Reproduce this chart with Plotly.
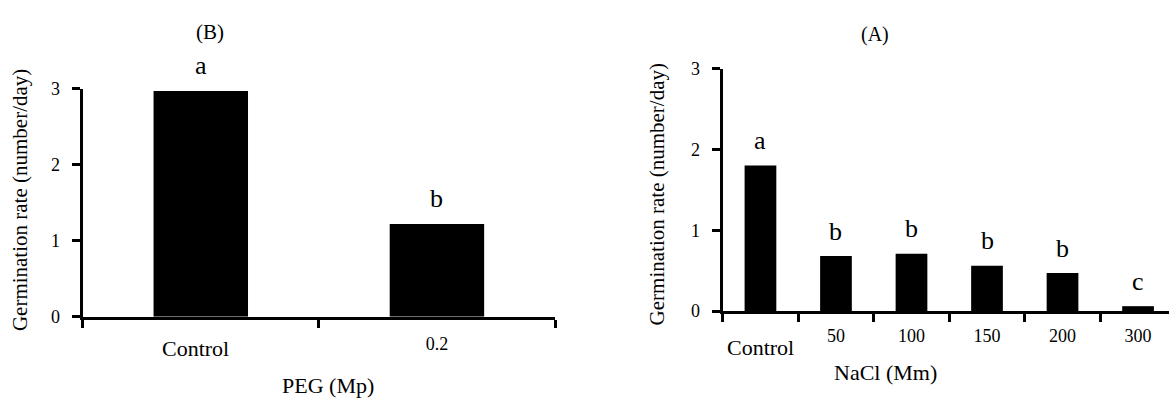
import plotly.graph_objects as go

# ---- data ----
peg_categories = ["Control", "0.2"]
peg_rate = [2.97, 1.22]
peg_letters = ["a", "b"]

nacl_categories = ["Control", "50", "100", "150", "200", "300"]
nacl_rate = [1.80, 0.68, 0.71, 0.56, 0.47, 0.06]
nacl_letters = ["a", "b", "b", "b", "b", "c"]

y_ticks = [0, 1, 2, 3]

W, H = 1169, 404
FONT = "Liberation Serif, Times New Roman, serif"


def px(x):
    return x / W


def py(y):
    return 1 - y / H


fig = go.Figure()
fig.add_trace(go.Bar(x=peg_categories, y=peg_rate, width=0.40,
                     marker=dict(color="black", line=dict(width=0)),
                     xaxis="x", yaxis="y", showlegend=False))
fig.add_trace(go.Bar(x=nacl_categories, y=nacl_rate, width=0.42,
                     marker=dict(color="black", line=dict(width=0)),
                     xaxis="x2", yaxis="y2", showlegend=False))

axis_common = dict(showline=True, linecolor="black", linewidth=3,
                   ticks="outside", ticklen=8, tickwidth=3, tickcolor="black",
                   showgrid=False, zeroline=False,
                   tickfont=dict(family=FONT, size=18, color="black"))

fig.update_layout(
    width=W, height=H,
    margin=dict(l=0, r=0, t=0, b=0),
    paper_bgcolor="white", plot_bgcolor="white",
    font=dict(family=FONT, color="black"),
    xaxis=dict(domain=[px(82.7), px(555)], anchor="y", type="category",
               range=[-0.5, 1.5], tickson="boundaries",
               tickmode="array", tickvals=peg_categories,
               ticktext=["" if c == "Control" else c for c in peg_categories],
               ticklabelstandoff=9, **axis_common),
    yaxis=dict(domain=[py(322.7), py(82.7)], anchor="x", range=[0, 3],
               tickmode="array", tickvals=y_ticks, ticklabelstandoff=8,
               **axis_common),
    xaxis2=dict(domain=[px(722.7), 1.0], anchor="y2", type="category",
                range=[-0.5, 5.41], tickson="boundaries",
                tickmode="array", tickvals=nacl_categories,
                ticktext=["" if c == "Control" else c for c in nacl_categories],
                ticklabelstandoff=6, **axis_common),
    yaxis2=dict(domain=[py(316.7), py(61.7)], anchor="x2", range=[0, 3],
                tickmode="array", tickvals=y_ticks, ticklabelstandoff=8,
                **axis_common),
)

ann = []
# significance letters (x given as category index)
for i, (v, t) in enumerate(zip(peg_rate, peg_letters)):
    ann.append(dict(x=i, y=v, xref="x", yref="y", text=t, showarrow=False,
                    yanchor="middle", yshift=25,
                    font=dict(family=FONT, size=26, color="black")))
for i, (v, t) in enumerate(zip(nacl_rate, nacl_letters)):
    ann.append(dict(x=i, y=v, xref="x2", yref="y2", text=t, showarrow=False,
                    yanchor="middle", yshift=25,
                    font=dict(family=FONT, size=26, color="black")))

# "Control" labels (larger, offset)
ann.append(dict(x=0, y=py(356), xref="x", yref="paper", text="Control",
                showarrow=False, yanchor="middle", xshift=-5,
                font=dict(family=FONT, size=22, color="black")))
ann.append(dict(x=0, y=py(355), xref="x2", yref="paper", text="Control",
                showarrow=False, yanchor="middle",
                font=dict(family=FONT, size=22, color="black")))

# panel titles
ann.append(dict(x=px(194), y=py(23), xref="paper", yref="paper", text="(B)",
                showarrow=False, yanchor="middle",
                font=dict(family=FONT, size=21, color="black")))
ann.append(dict(x=px(891), y=py(26), xref="paper", yref="paper", text="(A)",
                showarrow=False, yanchor="middle",
                font=dict(family=FONT, size=20, color="black")))

# axis titles
ann.append(dict(x=px(280), y=py(395), xref="paper", yref="paper", text="PEG (Mp)",
                showarrow=False, yanchor="middle",
                font=dict(family=FONT, size=22, color="black")))
ann.append(dict(x=px(939), y=py(381), xref="paper", yref="paper", text="NaCl (Mm)",
                showarrow=False, yanchor="middle",
                font=dict(family=FONT, size=22, color="black")))
ann.append(dict(x=px(20), y=py(200), xref="paper", yref="paper",
                text="Germination rate (number/day)", textangle=-90,
                showarrow=False, xanchor="center", yanchor="middle",
                font=dict(family=FONT, size=21, color="black")))
ann.append(dict(x=px(657), y=py(194), xref="paper", yref="paper",
                text="Germination rate (number/day)", textangle=-90,
                showarrow=False, xanchor="center", yanchor="middle",
                font=dict(family=FONT, size=21, color="black")))

fig.update_layout(annotations=ann)
fig.write_html("out.html", config={"displayModeBar": False},
               post_script="document.body.style.margin='0';")
